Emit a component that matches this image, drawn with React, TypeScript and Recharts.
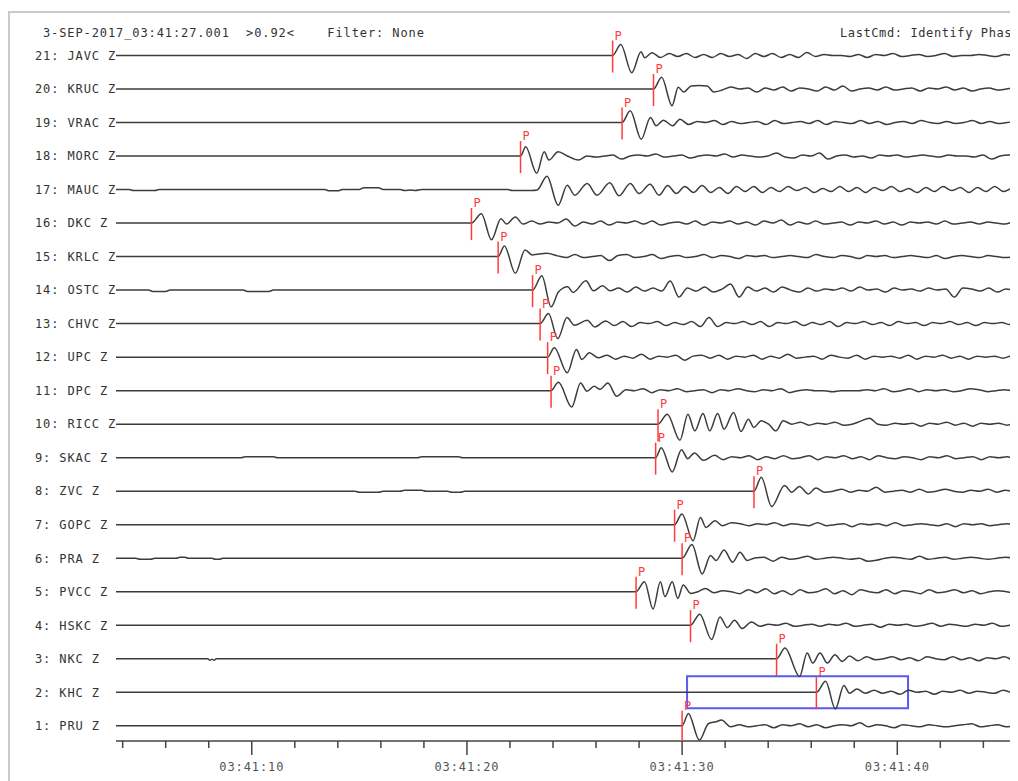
import React from "react";
import { ComposedChart, Line, Scatter, XAxis, YAxis, ReferenceArea } from "recharts";

const MONO = "'DejaVu Sans Mono', 'Liberation Mono', monospace";
const SPACING_PX = 33.5; // px between trace baselines, amplitudes below are in px

// bottom trace first
const stations = ["PRU", "KHC", "NKC", "HSKC", "PVCC", "PRA", "GOPC", "ZVC", "SKAC", "RICC", "DPC",
  "UPC", "CHVC", "OSTC", "KRLC", "DKC", "MAUC", "MORC", "VRAC", "KRUC", "JAVC"];

// onset / P pick time, seconds after 03:41:00
const onsetTimes = [30.0, 36.24, 34.39, 30.39, 27.86, 30.0, 29.65, 33.34, 28.77, 28.88, 23.91,
  23.75, 23.4, 23.05, 21.45, 20.21, 23.26, 22.49, 27.21, 28.67, 26.77];
const hasPick = [true, true, true, true, true, true, true, true, true, true, true,
  true, true, true, true, true, false, true, true, true, true];

// first arrival: [seconds after onset, amplitude]
const onsetPRU = [[0, 0], [0.29, 12.3], [0.8, -14.3], [1.23, 2.3], [1.58, 4], [1.83, 5.7], [2.26, -1]];
const onsetKHC = [[0, 0], [0.43, 11], [0.88, -16.7], [1.28, 6.7], [1.54, -1], [1.88, 3.3]];
const onsetNKC = [[0, 0], [0.39, 10.7], [1.07, -17.7], [1.42, 5.7], [1.68, -4.3], [2.02, 5.7], [2.36, -4.3], [2.71, 4], [3.05, -2.7], [3.39, 2.7]];
const onsetHSKC = [[0, 0], [0.43, 11], [0.98, -14.3], [1.37, 8.3], [1.71, -2.3], [2.05, 5], [2.4, -3.3], [2.83, 3.3]];
const onsetPVCC = [[0, 0], [0.39, 10], [0.79, -17.3], [1.13, 10], [1.34, -5], [1.68, 10], [1.94, -6.7], [2.19, 6.7], [2.54, -1.7], [2.88, 0], [3.22, 3.3]];
const onsetPRA = [[0, 0], [0.46, 13.7], [0.93, -15.7], [1.32, 2.7], [1.58, -2.3], [1.95, 8.3], [2.35, -4], [2.69, 6], [3.03, -2.3], [3.37, 0.3], [3.8, 1], [4.23, -3]];
const onsetGOPC = [[0, 0], [0.34, 10.7], [0.86, -16], [1.2, 7.3], [1.46, -2.7], [1.88, 4], [2.23, -1], [2.65, 2]];
const onsetZVC = [[0, 0], [0.34, 14], [0.82, -15.3], [1.42, 5.7], [1.76, -1], [2.11, 4.7], [2.53, -2.7], [2.88, 3.3]];
const onsetSKAC = [[0, 0], [0.26, 10], [0.77, -14.3], [1.2, 8], [1.49, -1], [1.8, 4.7], [2.23, -2.7], [2.74, 2.3]];
const onsetRICC = [[0, 0], [0.43, 10], [1.02, -16], [1.39, 10], [1.71, -6.7], [2.09, 10.7], [2.4, -6.7], [2.77, 10.7], [3.07, -5], [3.51, 11.7], [3.86, -7.3], [4.2, 5], [4.45, -3.3], [4.8, 3.3], [5.14, 0], [5.48, -6.7], [5.82, 3.3]];
const onsetDPC = [[0, 0], [0.34, 8.3], [0.96, -16.3], [1.37, 7.7], [1.67, -0.7], [2.0, 4.3], [2.28, 1.3], [2.64, 7.7], [3.05, -5.7], [3.48, 1]];
const onsetUPC = [[0, 0], [0.31, 9.3], [0.91, -15.7], [1.34, 7.7], [1.59, -2.3], [1.94, 4.3], [2.36, -0.7]];
const onsetCHVC = [[0, 0], [0.39, 10], [0.82, -15], [1.25, 6], [1.59, -1.7], [2.19, 3.3], [2.54, -3.3], [3.05, 2.7]];
const onsetOSTC = [[0, 0], [0.43, 14.3], [0.86, -16.7], [1.2, -2], [1.63, 3.3], [1.88, -2.3], [2.48, 9.3], [2.83, -0.7], [3.25, 4.3], [3.6, -0.7]];
const onsetKRLC = [[0, 0], [0.29, 10.7], [0.8, -16.7], [1.25, 6.7], [1.58, 1.7], [2.26, 3.3], [2.77, 0.7]];
const onsetDKC = [[0, 0], [0.46, 9.3], [0.93, -16.7], [1.37, 4.3], [1.63, -1], [2.04, 6], [2.4, -1]];
const onsetMAUC = [[0, -0.5], [0.46, 13.3], [0.98, -15.7], [1.4, 4.3], [1.75, -5.7], [2.33, 6], [2.78, -5.7], [3.38, 6.7], [3.81, -6.3], [4.33, 6], [4.74, -4], [5.25, 5.3], [5.67, -5.7]];
const onsetMORC = [[0, 0], [0.24, 9.3], [0.75, -17.3], [1.1, 4.3], [1.32, -4], [1.75, 4.3], [2.18, 0], [2.69, -4]];
const onsetVRAC = [[0, 0], [0.38, 11.7], [0.89, -16.7], [1.32, 5], [1.58, -3.3], [1.92, 2.3], [2.35, -3.3], [2.69, 3.3]];
const onsetKRUC = [[0, 0], [0.38, 11.7], [0.86, -16.7], [1.15, 1.7], [1.4, -3], [1.75, 3], [2.1, 3.5], [2.5, 3], [2.8, -3]];
const onsetJAVC = [[0, 0], [0.38, 11], [0.89, -17.3], [1.32, 3.7], [1.49, -2.3], [1.83, 2.7]];

// coda amplitudes, one every 0.4 s after the first arrival
const codaPRU = [1, -1, 0, 1, -2, 1, 0, 2, -1, 1, -2, 0, 1, 0, 3, -1, 1, 0, -2, 1, 0, -1, 1, 0, -1, 0, 1, 2, -1, 0, 1, -1, 0, 1];
const codaKHC = [-1, 2, -1, 1, -2, 2, 0, 1, -2, 1, 0, 2, -1, 1, 0, -1, 2, 0, 1];
const codaNKC = [-2, 2, -1, 0, 2, -1, 1, -2, 2, 0, -1, 2, -1, 1, -2, 1, 0, 2, -1, 0];
const codaHSKC = [-1, 1, 0, 2, -1, 0, 1, -1, 1, 0, 2, -1, 0, 1, -2, 1, 0, 1, -1, 0, 2, -1, 1, 0, -1, 1, 0, 2, -1, 0, 1, 0];
const codaPVCC = [-1, 1, 0, -2, 2, -1, 3, -2, 1, -3, 2, -1, 0, 3, -2, 1, -3, 2, 0, -1, 2, -2, 1, 0, -2, 2, -1, 0, 2, -1, 1, -2, 0, 1, 0, -1, 0];
const codaPRA = [1, -1, 0, 2, -1, 0, 1, 0, -1, 0, -3, -2, 0, 1, 0, -1, 2, -1, 0, 1, -1, 0, 1, 0, -1, 0, 1, 0, -1];
const codaGOPC = [1, -1, 1, 0, 2, -1, 1, 0, -1, 2, -1, 0, 1, -2, 1, 0, 1, -1, 2, -1, 0, 1, 0, -1, 1, -2, 1, 0, 1, -1, 0, 1, 0, 1];
const codaZVC = [-1, 0, 2, -1, 1, 0, 4, -1, 0, 1, -1, 2, -1, 0, 2, 0, -1, 1, 0, 2, -1, 1, 0, 1];
const codaSKAC = [-2, 1, 0, 2, -2, 1, -1, 2, -1, 0, 2, -2, 1, 0, 2, -1, 1, -2, 2, 0, -1, 1, 0, -2, 1, 0, 2, -1, 0, 1, -2, 1, 0, 1, -1, 0];
const codaRICC = [0, 2, -1, 1, 0, 2, -1, 0, 3, 6, 0, -1, 1, 0, 1, -2, 1, 0, 2, -1, 1, -2, 1, 0, 1, -1, 1, 0];
const codaDPC = [0, 2, -2, 1, 0, 2, -1, 0, 1, -2, 1, 0, 2, 0, -1, 1, 0, 2, -2, 0, 1, 0, 0, -1, 0, 0, 0, 1, 0, 2, -1, 0, 2, -1, 1, 0, 1, -1, 0, 2, 1, -1, 0, 1, 0, 1];
const codaUPC = [2, -2, 1, -1, 3, -2, 1, 0, 2, -3, 1, 2, -1, 2, -2, 1, 0, 2, -2, 1, -1, 3, -1, 0, 1, -2, 2, 0, -1, 2, -2, 1, 0, 1, -1, 2, -2, 1, 0, 2, -1, 1, -2, 1, 0, 1, -1, 1, 0];
const codaCHVC = [-2, 2, -3, 1, 0, 2, -2, 1, -1, 2, -3, 6, -3, 1, 0, 2, -1, 2, -3, 1, 0, 2, -2, 1, -1, 2, -3, 1, 0, 2, -1, 1, -2, 2, 0, 1, -2, 1, 0, 2, -1, 1, -2, 1, 0, 1, -1, 0];
const codaOSTC = [2, -2, 3, -1, 2, -1, 9, -7, 2, -1, 3, -2, 1, 6, -7, 3, -1, 2, -2, 3, 0, -2, 2, -1, 1, 0, 2, -1, 3, 0, 1, -2, 2, 0, 1, -1, 2, 0, 1, -7, 2, 1, -1, 2, -2, 1, 0, 1];
const codaKRLC = [-1, 2, -1, 0, 1, -4, 1, 2, -1, 0, 2, -2, 0, 1, -1, 0, 2, -1, 1, 0, -2, 1, 0, 1, -1, 0, 1, 0, -1, 2, 0, -1, 1, 0, -2, 1, 0, 1, -1, 0, 1, 0, -1, 1, -2, 0, 1, 0, -1, 1, 0, -1, 0, 1];
const codaDKC = [2, -1, 1, 0, 4, -3, 1, -1, 2, -2, 1, 0, 2, -1, 2, -2, 0, 1, -1, 2, -2, 1, 0, 2, -1, 1, -2, 2, 0, 3, -2, 1, -1, 2, -1, 0, 1, -2, 1, 0, 2, -1, 1, -2, 1, 0, 1, -1, 2, -1, 0, 1, -1, 1, 0, -1, 1, 0];
const codaMAUC = [4, -4, 3, -3, 4, -3, 2, -4, 3, -2, 3, -3, 2, -2, 3, -1, 2, -3, 1, -2, 3, -2, 2, -3, 2, -1, 3, -2, 1, -3, 2, -2, 3, -1, 2, -3, 2, -2, 3, -2, 1, -1];
const codaMORC = [0, -1, 0, 1, -3, 0, 1, 0, 2, -1, 0, 1, -2, 0, 1, 0, 2, -1, 1, 0, -1, 0, 3, -1, -2, 1, 0, 3, -3, 0, 1, -1, 0, -2, 1, 0, 1, -1, 0, 1, 0, -1, 1, 0, 0, -1, 1, -3, 0, 1, 0, 1];
const codaVRAC = [-2, 1, 0, 2, -2, 1, -1, 0, 1, -2, 2, -1, 0, 1, -1, 2, -2, 1, 0, -1, 2, -1, 1, -2, 0, 1, -1, 2, 0, -1, 1, -1, 0, 2, -1, 1, -1, 0, 1, 0];
const codaKRUC = [-1, 2, 0, 1, -3, 1, -1, 2, -2, 1, 0, -2, 2, -1, 3, -2, 0, 1, -1, 2, -1, 0, 1, -2, 1, 0, 2, -1, 1, -2, 0, 1, -1, 0, 1, -1];
const codaJAVC = [-2, 2, -1, 2, -2, 1, -2, 2, -1, 1, -3, 2, -1, 2, -2, 1, -2, 3, -1, 1, 0, 0, -1, 1, -2, 1, 0, 2, -1, 0, 1, -1, 0, 2, -1, 0, 0, 1, 0, -1, 1, 0, -1];

// pre-event noise: [seconds after 03:41:00, amplitude]
const noiseNKC = [[7.95, 0], [8.05, -1.5], [8.15, -0.5], [8.25, -1.5], [8.35, 0]];
const noisePRA = [[4.6, 0], [4.8, -1], [5.3, -1], [5.5, 0], [6.5, 0], [6.65, 1], [6.9, 1], [7.05, 0], [8.15, 0], [8.3, -1], [8.5, -1], [8.65, 0]];
const noiseZVC = [[14.8, 0], [15.0, -1], [15.9, -1], [16.1, 0], [16.9, 0], [17.1, 1], [17.9, 1], [18.1, 0], [19.1, 0], [19.3, -1], [19.7, -1], [19.9, 0]];
const noiseSKAC = [[9.5, 0], [9.7, 1], [11.0, 1], [11.2, 0], [17.7, 0], [17.9, 1], [19.6, 1], [19.8, 0]];
const noiseOSTC = [[5.2, 0], [5.4, -1.3], [6.0, -1.3], [6.2, 0], [9.6, 0], [9.8, -1.3], [10.8, -1.3], [11.0, 0]];
const noiseMAUC = [[4.3, 0], [4.5, -1], [5.5, -1], [5.7, 0], [13.4, 0], [13.6, -1.3], [14.0, -1.3], [14.2, 0], [15.0, 0], [15.2, 1.7], [15.9, 1.7], [16.1, 0], [16.9, 0], [17.1, -1], [17.4, -0.5], [17.6, -1], [17.9, 0], [21.9, 0], [22.1, -1], [23.0, -1]];

const onsets = [onsetPRU, onsetKHC, onsetNKC, onsetHSKC, onsetPVCC, onsetPRA, onsetGOPC, onsetZVC, onsetSKAC, onsetRICC, onsetDPC,
  onsetUPC, onsetCHVC, onsetOSTC, onsetKRLC, onsetDKC, onsetMAUC, onsetMORC, onsetVRAC, onsetKRUC, onsetJAVC];
const codas = [codaPRU, codaKHC, codaNKC, codaHSKC, codaPVCC, codaPRA, codaGOPC, codaZVC, codaSKAC, codaRICC, codaDPC,
  codaUPC, codaCHVC, codaOSTC, codaKRLC, codaDKC, codaMAUC, codaMORC, codaVRAC, codaKRUC, codaJAVC];
const noises = [[], [], noiseNKC, [], [], noisePRA, [], noiseZVC, noiseSKAC, [], [],
  [], [], noiseOSTC, [], [], noiseMAUC, [], [], [], []];

const timeTicks = [4, 6, 8, 10, 12, 14, 16, 18, 20, 22, 24, 26, 28, 30, 32, 34, 36, 38, 40, 42, 44];
const labelTicks = [10, 20, 30, 40];
const tickLabels = ["03:41:10", "03:41:20", "03:41:30", "03:41:40"];
const stationTicks = stations.map((_, i) => i + 1);

const boxTimes = [30.23, 40.5];
const boxRange = [1.52, 2.48];

function buildTrace(i: number) {
  const base = i + 1;
  const t0 = onsetTimes[i];
  const pts = [{ t: 3.5, y: base }];
  noises[i].forEach(([t, a]) => pts.push({ t, y: base + a / SPACING_PX }));
  const shape = onsets[i];
  shape.forEach(([dt, a]) => pts.push({ t: t0 + dt, y: base + a / SPACING_PX }));
  const last = t0 + shape[shape.length - 1][0];
  codas[i].forEach((a, k) => pts.push({ t: last + 0.4 * (k + 1), y: base + a / SPACING_PX }));
  return pts;
}

const StationTick = (props: any) => {
  const { y, payload } = props;
  const n = payload.value;
  return (
    <text x={27} y={y} dy={4.3} fontFamily={MONO} fontSize={12} letterSpacing={0.9} fill="#333">
      {`${n}: ${stations[n - 1]} Z`}
    </text>
  );
};

const TimeTick = (props: any) => {
  const { x, y, payload } = props;
  const k = labelTicks.indexOf(payload.value);
  return (
    <g>
      <line x1={x} x2={x} y1={y} y2={y + (k >= 0 ? 14 : 7)} stroke="#444" strokeWidth={1.5} />
      {k >= 0 && (
        <text x={x} y={y + 30} textAnchor="middle" fontFamily={MONO} fontSize={12} letterSpacing={0.9} fill="#555">
          {tickLabels[k]}
        </text>
      )}
    </g>
  );
};

const PickMark = (props: any) => {
  const { cx, cy } = props;
  return (
    <g>
      <line x1={cx} x2={cx} y1={cy - 15} y2={cy + 17} stroke="#ff3b3b" strokeWidth={1.5} />
      <text x={cx + 2} y={cy - 16} fill="#ff3b3b" fontSize={12} fontFamily={MONO}>P</text>
    </g>
  );
};

export default function App() {
  const traces = stations.map((_, i) => buildTrace(i));
  const picks = stations
    .map((_, i) => (hasPick[i] ? { t: onsetTimes[i], y: i + 1 } : null))
    .filter((p) => p !== null);

  const headStyle: React.CSSProperties = {
    position: "absolute",
    top: 18,
    height: 14,
    lineHeight: "14px",
    fontFamily: MONO,
    fontSize: 12,
    letterSpacing: 0.9,
    color: "#333",
    whiteSpace: "pre",
  };

  return (
    <div style={{ position: "relative", width: 1010, height: 773, overflow: "hidden", background: "#fff" }}>
      <style>{"body{overflow:hidden}"}</style>
      <div style={{ position: "absolute", left: 0, top: 3, width: 1010, height: 1.5, background: "#c9cac3" }} />
      <div style={{ position: "absolute", left: 0, top: 3, width: 1.5, height: 770, background: "#c9cac3" }} />
      <ComposedChart width={1010} height={773} margin={{ top: 10, right: 0, bottom: 0, left: 0 }}>
        <XAxis
          type="number"
          dataKey="t"
          domain={[3.69, 45.61]}
          allowDataOverflow
          ticks={timeTicks}
          interval={0}
          tickSize={0}
          tickMargin={0}
          tickLine={false}
          tick={<TimeTick />}
          axisLine={{ stroke: "#444", strokeWidth: 1.5 }}
          height={40}
        />
        <YAxis
          type="number"
          dataKey="y"
          domain={[0.546, 22.119]}
          allowDataOverflow
          ticks={stationTicks}
          interval={0}
          tickLine={false}
          axisLine={false}
          width={108}
          tick={<StationTick />}
        />
        {traces.map((d, i) => (
          <Line
            key={stations[i]}
            data={d}
            dataKey="y"
            type="monotone"
            stroke="#3c3c3c"
            strokeWidth={1.5}
            dot={false}
            activeDot={false}
            isAnimationActive={false}
          />
        ))}
        <ReferenceArea
          x1={boxTimes[0]}
          x2={boxTimes[1]}
          y1={boxRange[0]}
          y2={boxRange[1]}
          fill="none"
          fillOpacity={0}
          stroke="#5a5af0"
          strokeWidth={2}
        />
        <Scatter data={picks} dataKey="y" shape={PickMark} isAnimationActive={false} />
      </ComposedChart>
      <div style={{ ...headStyle, left: 35 }}>{"3-SEP-2017_03:41:27.001  >0.92<    Filter: None"}</div>
      <div style={{ ...headStyle, left: 832, letterSpacing: 0.6 }}>{"LastCmd: Identify Phas"}</div>
    </div>
  );
}
